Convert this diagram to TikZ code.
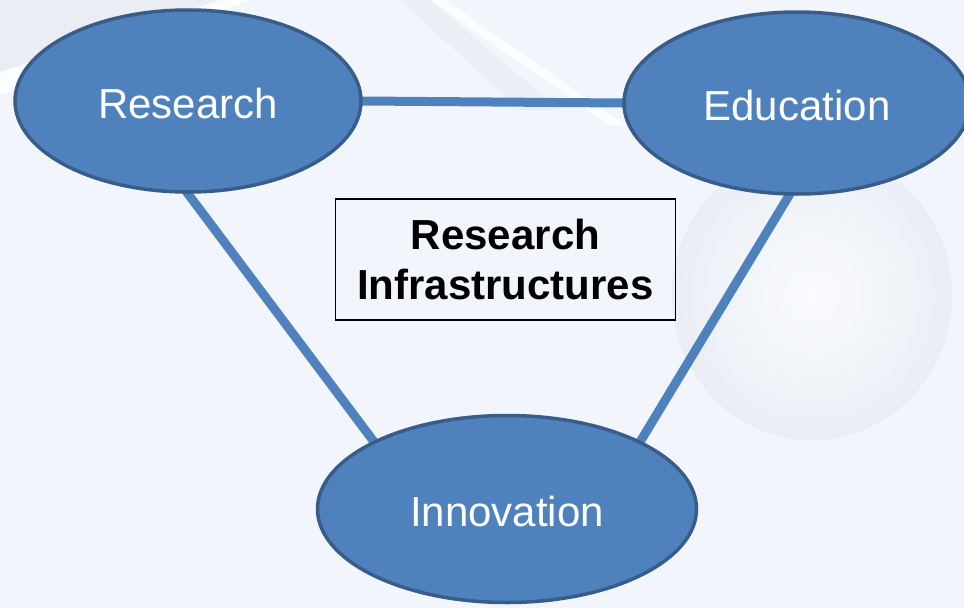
\documentclass[tikz,border=0pt]{standalone}
\usepackage{fontspec}
\setmainfont{Liberation Sans}
\usetikzlibrary{shapes.geometric,backgrounds}
\definecolor{nodefill}{HTML}{4F81BD}
\definecolor{nodeline}{HTML}{385D8A}
\definecolor{bgcol}{HTML}{F2F6FC}
\definecolor{bgshade}{HTML}{E6EAF0}
\begin{document}
\begin{tikzpicture}[x=1pt,y=-1pt,
  hub/.style={ellipse, draw=nodeline, line width=3.5pt, fill=nodefill, text=white,
    font=\fontsize{42}{50}\selectfont, inner sep=0pt, text height=35pt, text depth=0pt},
  link/.style={draw=nodefill, line width=9pt, shorten <=-8pt, shorten >=-8pt},
  titlebox/.style={draw=black, line width=1.5pt, align=center, inner sep=0pt,
    font=\fontsize{42}{50}\selectfont\bfseries, minimum width=340pt, minimum height=121pt}]
\begin{pgfonlayer}{background}
  \fill[bgcol] (0,0) rectangle (964,608);
  % faint photographic background shapes
  \fill[bgshade, opacity=0.6] (0,0) -- (230,0) -- (0,75) -- cycle;
  \fill[white, opacity=0.8] (0,72) -- (220,0) -- (250,0) -- (0,95) -- cycle;
  \fill[bgshade, opacity=0.5] (400,0) -- (430,0) -- (560,110) -- (520,110) -- cycle;
  \fill[white, opacity=0.8] (430,0) -- (445,0) -- (625,125) -- (610,125) -- cycle;
  \shade[inner color=white, outer color=bgshade, opacity=0.6] (812,295) ellipse [x radius=140pt, y radius=145pt];
\end{pgfonlayer}
\useasboundingbox (0,0) rectangle (964,608);

\node[hub, minimum width=346pt, minimum height=182pt] (res) at (188,101) {Research};
\node[hub, minimum width=346pt, minimum height=182pt] (edu) at (797,103) {Education};
\node[hub, minimum width=379pt, minimum height=187pt] (inn) at (507,509) {Innovation};
\node[titlebox] (ri) at (505.5,259.5) {Research\\Infrastructures};

\begin{pgfonlayer}{background}
  \draw[link] (res.east) -- (edu.west);
  \draw[link] (res.south) -- (inn.153);
  \draw[link] (edu.265) -- (inn.27);
\end{pgfonlayer}
\end{tikzpicture}
\end{document}
